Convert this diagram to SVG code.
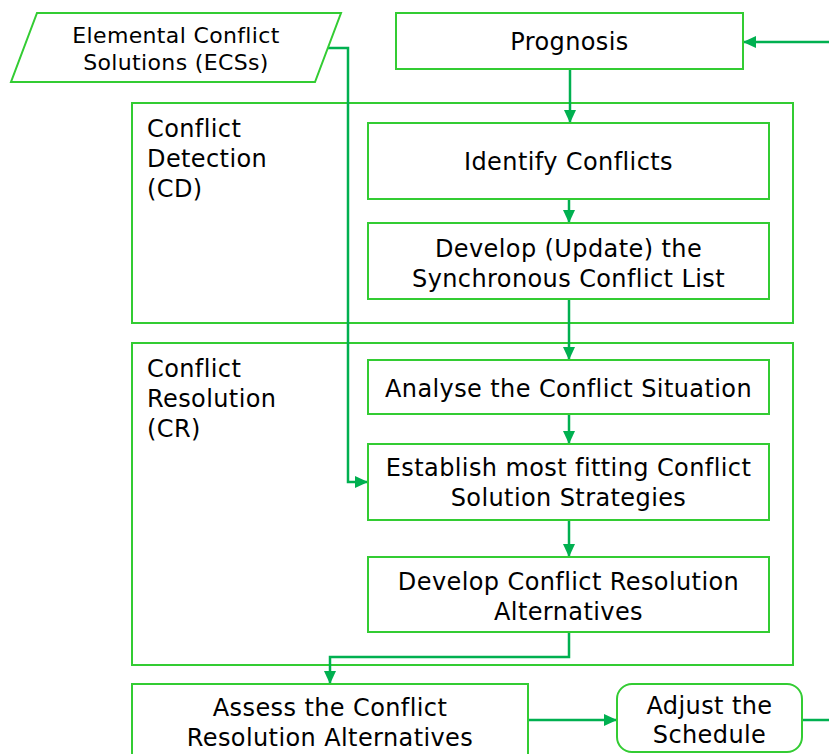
<svg xmlns="http://www.w3.org/2000/svg" width="829" height="754" viewBox="0 0 829 754">
  <style>
    .box { fill: #ffffff; stroke: #33CC33; stroke-width: 2; }
    .frame { fill: none; stroke: #33CC33; stroke-width: 2; }
    .conn { fill: none; stroke: #00B050; stroke-width: 2.5; }
    text { font-family: "DejaVu Sans", Verdana, sans-serif; font-size: 24px; letter-spacing: 0.4px; fill: #000000; }
    .c { text-anchor: middle; }
    .small { font-size: 22px; letter-spacing: 0.35px; }
  </style>
  <defs>
    <marker id="arrow" markerUnits="userSpaceOnUse" markerWidth="14" markerHeight="14" viewBox="0 0 14 14" refX="13" refY="7" orient="auto">
      <path d="M0,1 L13,7 L0,13 Z" fill="#00B050"/>
    </marker>
  </defs>
  <rect width="829" height="754" fill="#ffffff"/>

  <!-- Section frames -->
  <g id="conflict-detection">
    <rect class="frame" x="132" y="103" width="661" height="220"/>
    <text x="147" y="137">Conflict</text>
    <text x="147" y="167">Detection</text>
    <text x="147" y="197">(CD)</text>
  </g>
  <g id="conflict-resolution">
    <rect class="frame" x="132" y="343" width="661" height="322"/>
    <text x="147" y="377">Conflict</text>
    <text x="147" y="407">Resolution</text>
    <text x="147" y="437">(CR)</text>
  </g>

  <!-- Connectors -->
  <g id="connectors">
    <path class="conn" d="M829 42 H743" marker-end="url(#arrow)"/>
    <path class="conn" d="M570 69 V123" marker-end="url(#arrow)"/>
    <path class="conn" d="M569 199 V223" marker-end="url(#arrow)"/>
    <path class="conn" d="M569 299 V360" marker-end="url(#arrow)"/>
    <path class="conn" d="M569 414 V444" marker-end="url(#arrow)"/>
    <path class="conn" d="M569 520 V557" marker-end="url(#arrow)"/>
    <path class="conn" d="M569 632 V657 H330 V684" marker-end="url(#arrow)"/>
    <path class="conn" d="M328 48 H348 V482 H368" marker-end="url(#arrow)"/>
    <path class="conn" d="M528 720 H617" marker-end="url(#arrow)"/>
    <path class="conn" d="M802 720 H829"/>
  </g>

  <!-- Nodes -->
  <g id="ecs">
    <polygon class="box" points="37,13 341,13 315,82 11,82"/>
    <text class="c small" x="176" y="43">Elemental Conflict</text>
    <text class="c small" x="176" y="70">Solutions (ECSs)</text>
  </g>
  <g id="prognosis">
    <rect class="box" x="396" y="13" width="347" height="56"/>
    <text class="c" x="569.5" y="50">Prognosis</text>
  </g>
  <g id="identify-conflicts">
    <rect class="box" x="368" y="123" width="401" height="76"/>
    <text class="c" x="568.5" y="170">Identify Conflicts</text>
  </g>
  <g id="develop-list">
    <rect class="box" x="368" y="223" width="401" height="76"/>
    <text class="c" x="568.5" y="257">Develop (Update) the</text>
    <text class="c" x="568.5" y="287">Synchronous Conflict List</text>
  </g>
  <g id="analyse-situation">
    <rect class="box" x="368" y="360" width="401" height="54"/>
    <text class="c" x="568.5" y="397">Analyse the Conflict Situation</text>
  </g>
  <g id="establish-strategies">
    <rect class="box" x="368" y="444" width="401" height="76"/>
    <text class="c" x="568.5" y="476">Establish most fitting Conflict</text>
    <text class="c" x="568.5" y="506">Solution Strategies</text>
  </g>
  <g id="develop-alternatives">
    <rect class="box" x="368" y="557" width="401" height="75"/>
    <text class="c" x="568.5" y="590">Develop Conflict Resolution</text>
    <text class="c" x="568.5" y="620">Alternatives</text>
  </g>
  <g id="assess-alternatives">
    <rect class="box" x="132" y="684" width="396" height="90"/>
    <text class="c" x="330" y="716">Assess the Conflict</text>
    <text class="c" x="330" y="746">Resolution Alternatives</text>
  </g>
  <g id="adjust-schedule">
    <rect class="box" x="617" y="684" width="185" height="68" rx="15" ry="15"/>
    <text class="c" x="709.5" y="714">Adjust the</text>
    <text class="c" x="709.5" y="743">Schedule</text>
  </g>
</svg>
